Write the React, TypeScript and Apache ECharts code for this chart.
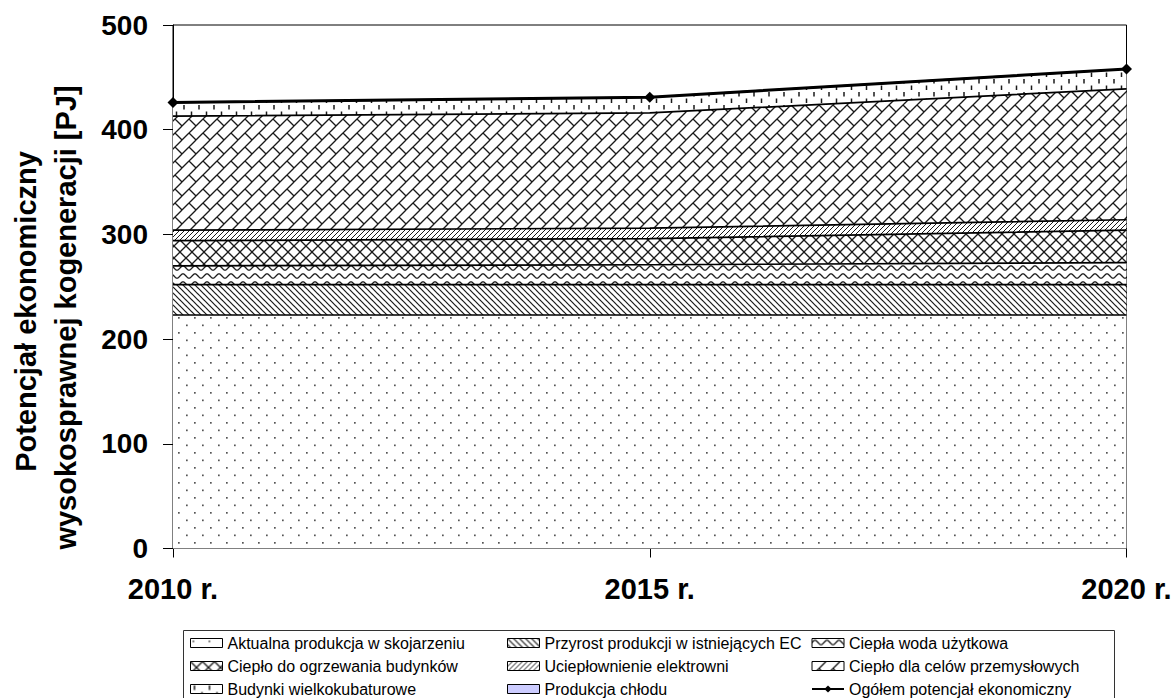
import React, { useEffect, useRef } from 'react';
import * as echarts from 'echarts';

const categories = ['2010 r.', '2015 r.', '2020 r.'];
const aktualna = [223, 223, 223];
const przyrost = [29, 29, 29];
const cieplaWoda = [18, 19, 21];
const ogrzewanie = [24, 25, 31];
const ucieplownienie = [10, 10, 10];
const przemysl = [109, 110, 125];
const budynki = [13, 15, 19];
const chlod = [0, 0, 0];
const ogolem = [426, 431, 458];

const yMin = 0;
const yMax = 500;
const yInterval = 100;

const FONT = '"Liberation Sans", Arial, Helvetica, sans-serif';

type Draw = (ctx: CanvasRenderingContext2D) => void;

function makeTile(w: number, h: number, draw: Draw, bg = '#ffffff') {
  const c = document.createElement('canvas');
  c.width = w;
  c.height = h;
  const ctx = c.getContext('2d') as CanvasRenderingContext2D;
  ctx.fillStyle = bg;
  ctx.fillRect(0, 0, w, h);
  for (const dx of [-w, 0, w]) {
    for (const dy of [-h, 0, h]) {
      ctx.save();
      ctx.translate(dx, dy);
      draw(ctx);
      ctx.restore();
    }
  }
  return { image: c, repeat: 'repeat' } as any;
}

function seg(ctx: CanvasRenderingContext2D, pts: number[][], lw: number, color = '#1a1a1a') {
  ctx.strokeStyle = color;
  ctx.lineWidth = lw;
  ctx.beginPath();
  ctx.moveTo(pts[0][0], pts[0][1]);
  for (let i = 1; i < pts.length; i++) ctx.lineTo(pts[i][0], pts[i][1]);
  ctx.stroke();
}

function buildPatterns() {
  const dots = makeTile(16, 15, (ctx) => {
    ctx.fillStyle = '#555';
    ctx.fillRect(2, 2, 1.7, 1.7);
    ctx.fillRect(10, 9.5, 1.7, 1.7);
  });
  const diagDown = makeTile(6, 6, (ctx) => seg(ctx, [[0, 0], [6, 6]], 1.2));
  const diagUp = makeTile(5, 5, (ctx) => seg(ctx, [[0, 5], [5, 0]], 1.0));
  const wave = makeTile(12, 8, (ctx) => {
    const pts: number[][] = [];
    for (let x = 0; x <= 12; x += 0.5) pts.push([x, 4 - 2.1 * Math.sin((2 * Math.PI * x) / 12)]);
    seg(ctx, pts, 1.3);
  });
  const diamond = makeTile(12, 12, (ctx) => {
    seg(ctx, [[0, 0], [12, 12]], 1.3);
    seg(ctx, [[12, 0], [0, 12]], 1.3);
  });
  const brick = makeTile(14, 14, (ctx) => {
    seg(ctx, [[0, 14], [14, 0]], 1.3);
    seg(ctx, [[7, 7], [14, 14]], 1.3);
  });
  const vdash = makeTile(15, 13, (ctx) => {
    seg(ctx, [[4, 1], [4, 5.5]], 1.5);
    seg(ctx, [[11.5, 7.5], [11.5, 12]], 1.5);
  });
  return { dots, diagDown, diagUp, wave, diamond, brick, vdash };
}

export default function App() {
  const ref = useRef<HTMLDivElement>(null);

  useEffect(() => {
    document.body.style.margin = '0';
    if (!ref.current) return;
    const chart = echarts.init(ref.current, undefined, { renderer: 'svg' });
    const p = buildPatterns();
    const chlodColor = '#CCCCFF';

    const names = {
      akt: 'Aktualna produkcja w skojarzeniu',
      prz: 'Przyrost produkcji w istniejących EC',
      woda: 'Ciepła woda użytkowa',
      ogrz: 'Ciepło do ogrzewania budynków',
      ucp: 'Uciepłownienie elektrowni',
      przem: 'Ciepło dla celów przemysłowych',
      bud: 'Budynki wielkokubaturowe',
      chl: 'Produkcja chłodu',
      tot: 'Ogółem potencjał ekonomiczny',
    };

    const area = (name: string, data: number[], fill: any, lw = 1.7) => ({
      name,
      type: 'line',
      stack: 'total',
      data,
      symbol: 'none',
      showSymbol: false,
      lineStyle: { color: '#000', width: lw },
      itemStyle: { color: '#000' },
      areaStyle: { color: fill, opacity: 1 },
      emphasis: { disabled: true },
      z: 2,
    });

    const item = (name: string, fill: any) => ({
      name,
      icon: 'rect',
      itemStyle: { color: fill, borderColor: '#000', borderWidth: 1 },
    });

    const legendBase = {
      orient: 'vertical',
      top: 635,
      itemWidth: 32,
      itemHeight: 9,
      itemGap: 7,
      padding: 0,
      selectedMode: false,
      textStyle: { fontSize: 16, color: '#000', fontFamily: FONT, lineHeight: 16 },
    };

    chart.setOption({
      animation: false,
      backgroundColor: '#ffffff',
      grid: {
        left: 173,
        top: 25,
        right: 49.5,
        bottom: 149.5,
        show: true,
        borderColor: '#000',
        borderWidth: 1,
        backgroundColor: 'transparent',
      },
      xAxis: {
        type: 'category',
        data: categories,
        boundaryGap: false,
        axisLine: { show: true, lineStyle: { color: '#000', width: 1 } },
        axisTick: { show: true, length: 9, inside: false, lineStyle: { color: '#000' } },
        axisLabel: { fontSize: 29, fontWeight: 'bold', color: '#000', fontFamily: FONT, margin: 26, interval: 0 },
        splitLine: { show: false },
      },
      yAxis: {
        type: 'value',
        min: yMin,
        max: yMax,
        interval: yInterval,
        axisLine: { show: true, lineStyle: { color: '#000', width: 1 } },
        axisTick: { show: true, length: 10, lineStyle: { color: '#000' } },
        axisLabel: { fontSize: 28, fontWeight: 'bold', color: '#000', fontFamily: FONT, margin: 25 },
        splitLine: { show: false },
      },
      legend: [
        { ...legendBase, left: 190, data: [item(names.akt, p.dots), item(names.ogrz, p.diamond), item(names.bud, p.vdash)] },
        { ...legendBase, left: 507, data: [item(names.prz, p.diagDown), item(names.ucp, p.diagUp), item(names.chl, chlodColor)] },
        {
          ...legendBase,
          left: 811,
          data: [item(names.woda, p.wave), item(names.przem, p.brick), { name: names.tot, lineStyle: { width: 2 } }],
        },
      ],
      graphic: [
        {
          type: 'rect',
          silent: true,
          z: -1,
          shape: { x: 183.5, y: 630.5, width: 931, height: 80 },
          style: { fill: 'none', stroke: '#333', lineWidth: 1 },
        },
        {
          type: 'text',
          silent: true,
          x: 26,
          y: 311.5,
          rotation: Math.PI / 2,
          style: {
            text: 'Potencjał ekonomiczny',
            fontSize: 29,
            fontWeight: 'bold',
            fontFamily: FONT,
            fill: '#000',
            align: 'center',
            verticalAlign: 'middle',
          },
        },
        {
          type: 'text',
          silent: true,
          x: 66,
          y: 317.5,
          rotation: Math.PI / 2,
          style: {
            text: 'wysokosprawnej kogeneracji [PJ]',
            fontSize: 29,
            fontWeight: 'bold',
            fontFamily: FONT,
            fill: '#000',
            align: 'center',
            verticalAlign: 'middle',
          },
        },
      ],
      series: [
        area(names.akt, aktualna, p.dots),
        area(names.prz, przyrost, p.diagDown),
        area(names.woda, cieplaWoda, p.wave),
        area(names.ogrz, ogrzewanie, p.diamond),
        area(names.ucp, ucieplownienie, p.diagUp),
        area(names.przem, przemysl, p.brick),
        area(names.bud, budynki, p.vdash),
        area(names.chl, chlod, chlodColor, 0),
        {
          name: names.tot,
          type: 'line',
          data: ogolem,
          symbol: 'diamond',
          symbolSize: 11,
          showSymbol: true,
          lineStyle: { color: '#000', width: 3 },
          itemStyle: { color: '#000' },
          emphasis: { disabled: true },
          z: 5,
        },
      ],
    });

    return () => chart.dispose();
  }, []);

  return <div ref={ref} style={{ width: 1176, height: 698 }} />;
}
